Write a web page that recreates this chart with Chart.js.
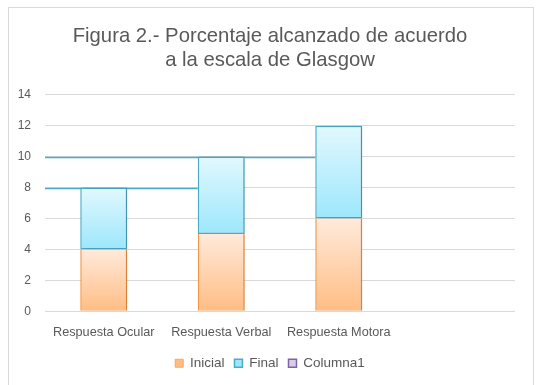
<!DOCTYPE html>
<html>
  <head>
    <title>Figura 2 - Glasgow</title>
    <script src="https://cdn.jsdelivr.net/npm/chart.js@4"></script>
    <style>
      html, body { margin: 0; padding: 0; background: #fff; }
      #wrap { position: relative; width: 544px; height: 385px; }
      #frame {
        position: absolute; left: 8px; top: 7px; width: 526px; height: 380px;
        border: 1px solid #d9d9d9; box-sizing: border-box; pointer-events: none;
      }
      canvas { position: absolute; left: 0; top: 0; }
    </style>
  </head>
  <body>
    <div id="wrap">
      <div id="frame"></div>
      <canvas id="chart" width="544" height="385"></canvas>
    </div>
    <script>
      const categorias = ["Respuesta Ocular", "Respuesta Verbal", "Respuesta Motora", ""]
      const inicial = [4, 5, 6, null]
      const final = [4, 5, 6, null]
      const columna1 = [null, null, null, null]
      const maxY = 14
      const pasoY = 2

      const gris = "#595959"

      // gradient for one stacked segment, light at the top
      function degradado(claro, oscuro) {
        return ctx => {
          const chart = ctx.chart
          if (ctx.type !== "data" || !chart.chartArea || ctx.raw == null) return oscuro
          const i = ctx.dataIndex
          const base = ctx.datasetIndex === 0 ? 0 : (inicial[i] || 0)
          const y = chart.scales.y
          const yTop = y.getPixelForValue(base + ctx.raw)
          const yBot = y.getPixelForValue(base)
          const g = chart.ctx.createLinearGradient(0, yTop, 0, yBot)
          g.addColorStop(0, claro)
          g.addColorStop(1, oscuro)
          return g
        }
      }

      // horizontal lines from the left of the plot to the next bar, at each bar's total
      const lineasSerie = {
        id: "lineasSerie",
        beforeDatasetsDraw(chart) {
          const ctx = chart.ctx
          const meta = chart.getDatasetMeta(1)
          ctx.save()
          ctx.strokeStyle = "#4bacc6"
          ctx.lineWidth = 1.3
          for (let i = 0; i < categorias.length - 1; i++) {
            const sig = meta.data[i + 1]
            if (inicial[i] == null || final[i + 1] == null || !sig) continue
            const yy = Math.round(chart.scales.y.getPixelForValue(inicial[i] + final[i])) + 0.5
            ctx.beginPath()
            ctx.moveTo(chart.chartArea.left, yy)
            ctx.lineTo(sig.x - sig.width / 2, yy)
            ctx.stroke()
          }
          ctx.restore()
        },
      }

      const sombra = {
        id: "sombra",
        beforeDatasetDraw(chart) {
          const ctx = chart.ctx
          ctx.save()
          ctx.shadowColor = "rgba(0,0,0,0.18)"
          ctx.shadowOffsetX = 2
          ctx.shadowOffsetY = 0
          ctx.shadowBlur = 3
        },
        afterDatasetDraw(chart) {
          chart.ctx.restore()
        },
      }

      Chart.defaults.font.family = "'Liberation Sans', Arial, sans-serif"
      Chart.defaults.color = gris

      new Chart(document.getElementById("chart"), {
        type: "bar",
        data: {
          labels: categorias,
          datasets: [
            {
              label: "Inicial",
              data: inicial,
              backgroundColor: degradado("#ffeadb", "#ffbd84"),
              borderColor: "#f79646",
              borderWidth: { left: 1.5, right: 1.5, top: 0, bottom: 0 },
              borderSkipped: false,
            },
            {
              label: "Final",
              data: final,
              backgroundColor: degradado("#e2f8fe", "#9de7fc"),
              borderColor: "#4bacc6",
              borderWidth: 1.5,
              borderSkipped: false,
            },
            {
              label: "Columna1",
              data: columna1,
              backgroundColor: "#d9cde6",
              borderColor: "#8064a2",
              borderWidth: 1.5,
            },
          ],
        },
        options: {
          responsive: false,
          animation: false,
          layout: { padding: { top: 0, right: 14, bottom: 5, left: 10 } },
          datasets: { bar: { categoryPercentage: 0.8, barPercentage: 0.5 } },
          plugins: {
            title: {
              display: true,
              text: ["Figura 2.- Porcentaje alcanzado de acuerdo", "a la escala de Glasgow"],
              color: gris,
              font: { size: 20.3, weight: "normal", lineHeight: 1.15 },
              padding: { top: 25, bottom: 23 },
            },
            legend: {
              position: "bottom",
              labels: {
                color: gris,
                font: { size: 13.5 },
                boxWidth: 8,
                boxHeight: 8,
                padding: 10,
              },
            },
            tooltip: { enabled: false },
          },
          scales: {
            x: {
              stacked: true,
              grid: { display: false },
              border: { display: false },
              ticks: { color: gris, font: { size: 12.7 }, maxRotation: 0, autoSkip: false, padding: 6 },
            },
            y: {
              stacked: true,
              min: 0,
              max: maxY,
              ticks: { stepSize: pasoY, color: gris, font: { size: 12 }, padding: 14 },
              grid: { color: "#d9d9d9", drawTicks: false, lineWidth: 1 },
              border: { display: false },
              afterFit(scale) { scale.width = 35 },
            },
            // empty right axis, only keeps the plot where the original has it
            derecha: {
              position: "right",
              display: true,
              grid: { display: false },
              border: { display: false },
              ticks: { display: false },
              afterFit(scale) { scale.width = 15 },
            },
          },
        },
        plugins: [lineasSerie, sombra],
      })
    </script>
  </body>
</html>
